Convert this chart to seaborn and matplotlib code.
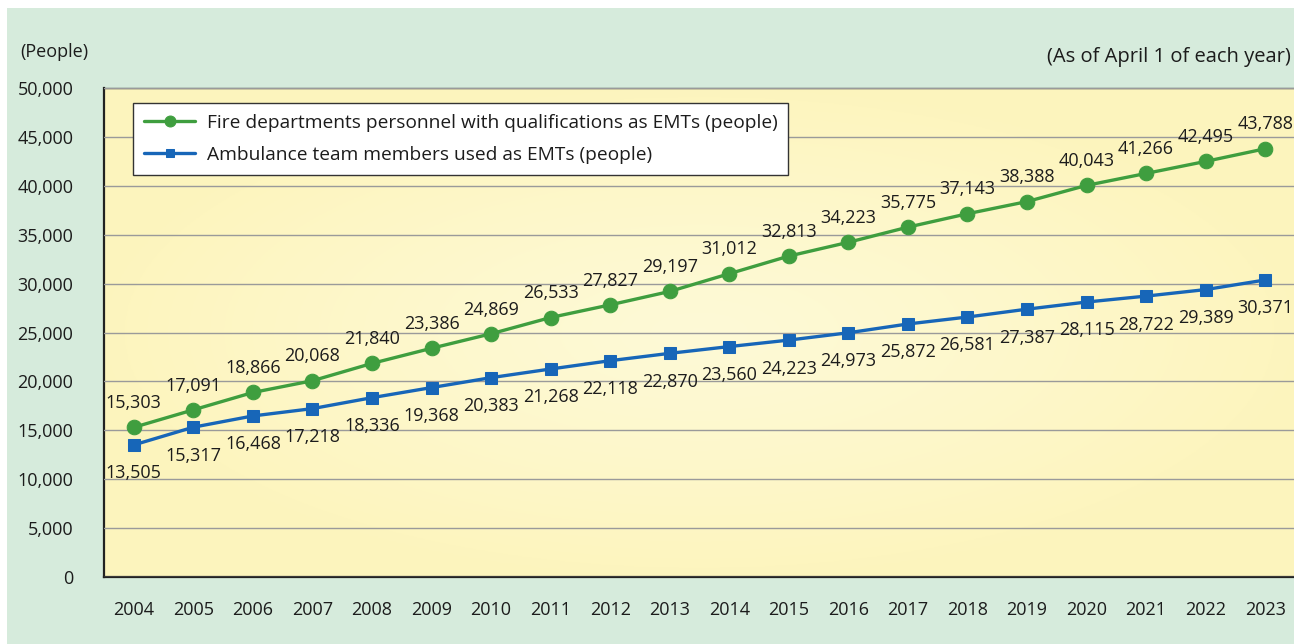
"""Recreate the EMT personnel trend chart (2004-2023)."""

import matplotlib.pyplot as plt
import numpy as np
import pandas as pd
import seaborn as sns
from matplotlib.patches import Rectangle


YEARS = list(range(2004, 2024))
QUALIFIED = [15303, 17091, 18866, 20068, 21840, 23386, 24869, 26533, 27827, 29197,
             31012, 32813, 34223, 35775, 37143, 38388, 40043, 41266, 42495, 43788]
ACTIVE = [13505, 15317, 16468, 17218, 18336, 19368, 20383, 21268, 22118, 22870,
          23560, 24223, 24973, 25872, 26581, 27387, 28115, 28722, 29389, 30371]
LABEL_QUALIFIED = "Fire departments personnel with qualifications as EMTs (people)"
LABEL_ACTIVE = "Ambulance team members used as EMTs (people)"

GREEN = "#3f9e3f"
BLUE = "#1766b8"
TEXT = "#1c1c1c"


def main():
    sns.set_theme(style="white")
    plt.rcParams["font.family"] = ["Open Sans", "DejaVu Sans"]

    df = pd.DataFrame({"pos": np.arange(len(YEARS)), "qualified": QUALIFIED, "active": ACTIVE})

    fig = plt.figure(figsize=(12.94, 6.44), dpi=100)
    fig.patch.set_facecolor("white")
    fig.patches.append(Rectangle((7 / 1294, 0), 1, 1 - 8 / 644, transform=fig.transFigure,
                                 facecolor="#d6ebdc", edgecolor="none", zorder=-10))
    ax = fig.add_axes([104 / 1294, (644 - 577) / 644, (1295 - 104) / 1294, (577 - 88) / 644])

    # soft yellow background with a slightly lighter centre
    gy, gx = np.mgrid[-1:1:200j, -1:1:400j]
    r = np.clip(np.sqrt(gx ** 2 + gy ** 2), 0, 1)
    edge = np.array([0.992, 0.960, 0.745])
    centre = np.array([0.996, 0.980, 0.840])
    img = centre + (edge - centre) * r[..., None] ** 1.2
    ax.imshow(img, extent=[-0.5, 19.5, 0, 50000], aspect="auto", zorder=0)

    sns.lineplot(data=df, x="pos", y="qualified", ax=ax, color=GREEN, lw=2.4,
                 marker="o", markersize=10.5, markeredgecolor=GREEN, label=LABEL_QUALIFIED, zorder=4)
    sns.lineplot(data=df, x="pos", y="active", ax=ax, color=BLUE, lw=2.4,
                 marker="s", markersize=8.5, markeredgecolor=BLUE, label=LABEL_ACTIVE, zorder=4)

    for i, (q, a) in enumerate(zip(QUALIFIED, ACTIVE)):
        ax.annotate(f"{q:,}", (i, q), xytext=(0, 11), textcoords="offset points",
                    ha="center", va="bottom", fontsize=13, color=TEXT, zorder=5)
        ax.annotate(f"{a:,}", (i, a), xytext=(0, -14), textcoords="offset points",
                    ha="center", va="top", fontsize=13, color=TEXT, zorder=5)

    ax.set_xlim(-0.5, 19.5)
    ax.set_ylim(0, 50000)
    ax.set_yticks(range(0, 50001, 5000))
    ax.set_yticklabels([f"{v:,}" for v in range(0, 50001, 5000)], fontsize=13, color=TEXT)
    ax.set_xticks(range(len(YEARS)))
    ax.set_xticklabels(YEARS, fontsize=13, color=TEXT)
    ax.set_xticks(np.arange(0.5, 19, 1), minor=True)
    ax.tick_params(axis="x", which="major", length=0, pad=17)
    ax.tick_params(axis="x", which="minor", direction="in", length=5, width=1.5, color="#222")
    ax.tick_params(axis="y", direction="in", length=5, width=1, color="#444", pad=22)
    ax.yaxis.grid(True, color="#9a9a9a", lw=1, zorder=1)
    ax.set_axisbelow(False)
    ax.set_xlabel("")
    ax.set_ylabel("")

    for side in ["left", "bottom"]:
        ax.spines[side].set_color("#222")
        ax.spines[side].set_linewidth(1.6)
    ax.spines["top"].set_color("#444")
    ax.spines["top"].set_linewidth(1)
    ax.spines["right"].set_visible(False)

    leg = ax.legend(loc="upper left", bbox_to_anchor=(0.0245, 0.969), fontsize=13.8,
                    frameon=True, fancybox=False, edgecolor="#333", framealpha=1,
                    handlelength=2.7, markerscale=0.75, borderpad=0.55, labelspacing=0.75,
                    borderaxespad=0, handletextpad=0.6)
    leg.get_frame().set_linewidth(1)
    for t in leg.get_texts():
        t.set_color(TEXT)

    fig.text(20 / 1294, 1 - 52 / 644, "(People)", fontsize=13, color=TEXT, va="center")
    fig.text(1291 / 1294, 1 - 57 / 644, "(As of April 1 of each year)", fontsize=14.5,
             color=TEXT, va="center", ha="right")

    fig.savefig("out.png", dpi=100, facecolor=fig.get_facecolor())
    plt.close(fig)


if __name__ == "__main__":
    main()
